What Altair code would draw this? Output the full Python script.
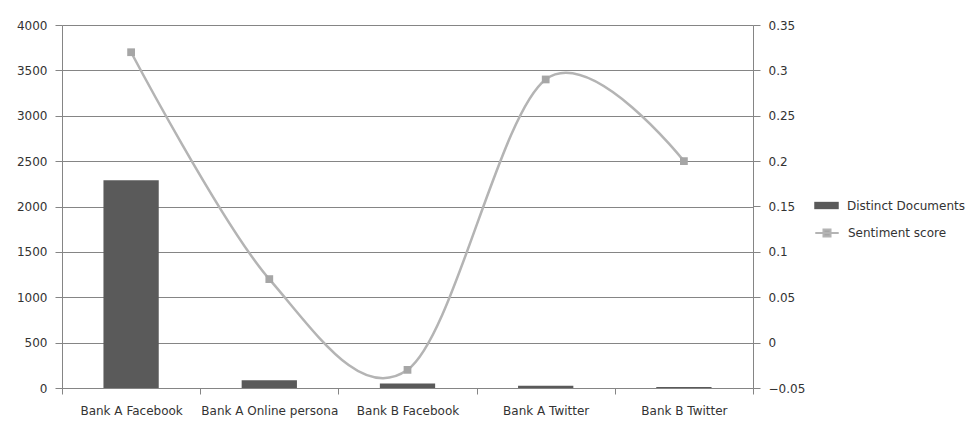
import altair as alt
import pandas as pd

categories = ["Bank A Facebook", "Bank A Online persona", "Bank B Facebook", "Bank A Twitter", "Bank B Twitter"]
documents = [2290, 85, 50, 25, 10]
sentiment = [0.32, 0.07, -0.03, 0.29, 0.20]
left_ticks = [0, 500, 1000, 1500, 2000, 2500, 3000, 3500, 4000]
right_ticks = [-0.05, 0, 0.05, 0.1, 0.15, 0.2, 0.25, 0.3, 0.35]

df = pd.DataFrame({
    "category": categories,
    "documents": documents,
    "sentiment": sentiment,
    "s1": ["Distinct Documents"] * 5,
    "s2": ["Sentiment score"] * 5,
})

FONT = "DejaVu Sans"
TXT = "#333333"
AXC = "#858585"

x = alt.X(
    "category:N", sort=categories, title=None,
    scale=alt.Scale(paddingInner=0, paddingOuter=0),
    axis=alt.Axis(labelAngle=0, tickBand="extent", tickSize=6, labelPadding=11,
                  domainColor=AXC, tickColor=AXC, labelColor=TXT, labelFont=FONT,
                  labelFontSize=12, grid=False),
)

right_axis = alt.Axis(orient="right", values=right_ticks, format="~g", grid=False, tickSize=7,
                      domainColor=AXC, tickColor=AXC, labelColor=TXT, labelFont=FONT,
                      labelFontSize=12, labelPadding=8)

bars = alt.Chart(df).mark_bar(width={"band": 0.4}, color="#5a5a5a").encode(
    x=x,
    y=alt.Y("documents:Q", title=None, scale=alt.Scale(domain=[0, 4000]),
            axis=alt.Axis(values=left_ticks, format="d", grid=True, gridColor=AXC, tickSize=7,
                          domainColor=AXC, tickColor=AXC, labelColor=TXT, labelFont=FONT,
                          labelFontSize=12, labelPadding=8)),
    color=alt.Color("s1:N", scale=alt.Scale(range=["#5a5a5a"]),
                    legend=alt.Legend(title=None, orient="none", legendX=752, legendY=168,
                                      symbolType="M-1,-0.3H1V0.3H-1Z", symbolSize=600,
                                      symbolStrokeWidth=0, labelFont=FONT, labelFontSize=12,
                                      labelColor=TXT, labelOffset=8)),
)

line = alt.Chart(df).mark_line(interpolate="cardinal", strokeWidth=2.5).encode(
    x=x,
    y=alt.Y("sentiment:Q", title=None, scale=alt.Scale(domain=[-0.05, 0.35]), axis=right_axis),
    color=alt.Color("s2:N", scale=alt.Scale(range=["#b4b4b4"]),
                    legend=alt.Legend(title=None, orient="none", legendX=752, legendY=195,
                                      symbolType="M-1,0H1M-0.3,-0.3H0.3V0.3H-0.3Z",
                                      symbolSize=550, symbolStrokeWidth=2,
                                      symbolFillColor="#a6a6a6", symbolStrokeColor="#b4b4b4",
                                      labelFont=FONT, labelFontSize=12, labelColor=TXT,
                                      labelOffset=8)),
)

points = alt.Chart(df).mark_square(size=60, color="#a6a6a6", opacity=1).encode(
    x=x,
    y=alt.Y("sentiment:Q", title=None, scale=alt.Scale(domain=[-0.05, 0.35]), axis=right_axis),
)

right = alt.layer(line, points)

chart = alt.layer(bars, right).resolve_scale(y="independent", color="independent").properties(
    width=691, height=363, padding={"left": 8, "top": 11, "right": 5, "bottom": 5}
).configure_view(stroke=None).configure(background="white")

chart.save("out.html", embed_options={"renderer": "svg", "actions": False})
